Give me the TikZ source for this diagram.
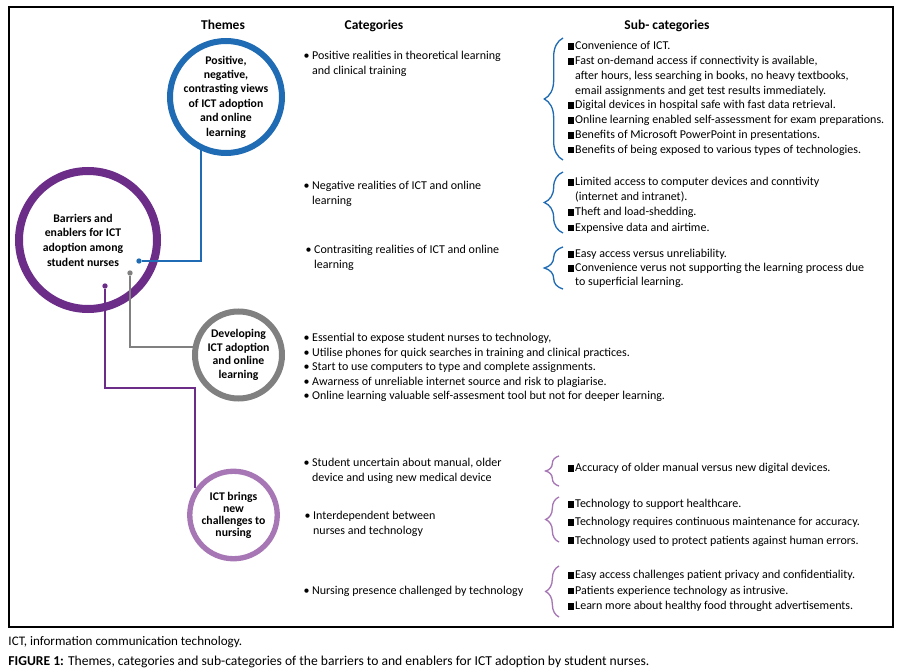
\documentclass[tikz,border=0pt]{standalone}
\usepackage{fontspec}
\setmainfont{Carlito}
\usetikzlibrary{decorations.pathreplacing}
\definecolor{themeblue}{RGB}{31,107,180}
\definecolor{themepurple}{RGB}{107,45,136}
\definecolor{themegrey}{RGB}{128,128,128}
\definecolor{themelilac}{RGB}{166,118,181}
\newcommand{\sqbul}{\rule{5pt}{5pt}\kern0.8pt}
\tikzset{every picture/.style={line width=0.75pt},
  theme/.style={circle, fill=white, inner sep=0pt},
  themetext/.style={align=center, inner sep=0pt, font=\bfseries\fontsize{8.8}{10.8}\selectfont},
  head/.style={anchor=base, inner sep=0.75pt, font=\bfseries\fontsize{10.1}{12}\selectfont},
  listtext/.style={anchor=north west, inner sep=0.75pt, align=left, font=\fontsize{9}{11.1}\selectfont},
  dot/.style={circle, inner sep=0pt, minimum size=4pt},
  conn/.style={line width=1.5pt},
  subbrace/.style={decorate, line width=1pt}
}

\begin{document}
\begin{tikzpicture}[x=0.75pt,y=0.75pt,yscale=-1,xscale=1]
	\useasboundingbox (0,0) rectangle (901,671);
	%Shape: Rectangle
	\draw [line width=1.1pt] (9,7) rectangle (893,627);
	% Text Node
	\draw (223,29.5) node (hthemes) [head] {Themes};
	% Text Node
	\draw (374,29.5) node (hcat) [head] {Categories};
	% Text Node
	\draw (667,29.5) node (hsub) [head] {Sub- categories};
	%Shape: Circle
	\draw (88,240) node (core) [theme, draw=themepurple, line width=6pt, minimum size=103.5pt, label={[themetext, xshift=-3.75pt, font=\bfseries\fontsize{8.8}{11}\selectfont]center:{Barriers and\\enablers for ICT\\adoption among\\student nurses}}] {};
	%Shape: Circle
	\draw (226,97) node (views) [theme, draw=themeblue, line width=4.5pt, minimum size=84pt, label={[themetext]center:{Positive,\\negative,\\contrasting views\\of ICT adoption\\and online\\learning}}] {};
	%Shape: Circle
	\draw (238.5,355) node (dev) [theme, draw=themegrey, line width=4.5pt, minimum size=65.25pt, label={[themetext, font=\bfseries\fontsize{8.8}{10.3}\selectfont]center:{Developing\\ICT adoption\\and online\\learning}}] {};
	%Shape: Circle
	\draw (233.5,515) node (chal) [theme, draw=themelilac, line width=4pt, minimum size=65.6pt, label={[themetext, font=\bfseries\fontsize{8.8}{9}\selectfont]center:{ICT brings\\new\\challenges to\\nursing}}] {};
	%Shape: Dots
	\draw (139,261) node (bdot) [dot, fill=themeblue] {};
	\draw (130,273) node (gdot) [dot, fill=themegrey] {};
	\draw (105,286) node (pdot) [dot, fill=themepurple] {};
	%Straight Lines
	\draw [conn, themeblue] (bdot) -| (views.245);
	%Straight Lines
	\draw [conn, themegrey] (gdot) |- (dev.170);
	%Straight Lines
	\draw [conn, themepurple] (pdot) -- ++(0,102) -| (chal.145);
	% Text Node
	\draw (302,50) node (cpos) [listtext] {• Positive realities in theoretical learning\\\phantom{• }and clinical training};
	% Text Node
	\draw (302,180) node (cneg) [listtext] {• Negative realities of ICT and online\\\phantom{• }learning};
	% Text Node
	\draw (304,244) node (ccon) [listtext] {• Contrasiting realities of ICT and online\\\phantom{• }learning};
	% Text Node
	\draw (302,332) node (cdev) [listtext, font=\fontsize{9}{10.9}\selectfont] {• Essential to expose student nurses to technology,\\• Utilise phones for quick searches in training and clinical practices.\\• Start to use computers to type and complete assignments.\\• Awarness of unreliable internet source and risk to plagiarise.\\• Online learning valuable self-assesment tool but not for deeper learning.};
	% Text Node
	\draw (302,457) node (cunc) [listtext] {• Student uncertain about manual, older\\\phantom{• }device and using new medical device};
	% Text Node
	\draw (303,510) node (cint) [listtext] {• Interdependent between\\\phantom{• }nurses and technology};
	% Text Node
	\draw (302,585) node (cpres) [listtext] {• Nursing presence challenged by technology};
	%Shape: Brace
	\draw [subbrace, themeblue, decoration={brace, amplitude=14pt}] (563,160) -- (563,38);
	\draw [subbrace, themeblue, decoration={brace, amplitude=14pt}] (563,233) -- (563,172);
	\draw [subbrace, themeblue, decoration={brace, amplitude=14pt}] (563,289) -- (563,247);
	\draw [subbrace, themelilac, decoration={brace, amplitude=10pt}] (559,486) -- (559,456);
	\draw [subbrace, themelilac, decoration={brace, amplitude=10pt}] (559,542) -- (559,497);
	\draw [subbrace, themelilac, decoration={brace, amplitude=10pt}] (559,617) -- (559,566);
	% Text Node
	\draw (566,40) node (spos) [listtext] {\sqbul Convenience of ICT.\\\sqbul Fast on-demand access if connectivity is available,\\\phantom{\sqbul}after hours, less searching in books, no heavy textbooks,\\\phantom{\sqbul}email assignments and get test results immediately.\\\sqbul Digital devices in hospital safe with fast data retrieval.\\\sqbul Online learning enabled self-assessment for exam preparations.\\\sqbul Benefits of Microsoft PowerPoint in presentations.\\\sqbul Benefits of being exposed to various types of technologies.};
	% Text Node
	\draw (566,176) node (sneg) [listtext] {\sqbul Limited access to computer devices and conntivity\\\phantom{\sqbul}(internet and intranet).\\[0.4pt]\sqbul Theft and load-shedding.\\[0.4pt]\sqbul Expensive data and airtime.};
	% Text Node
	\draw (566,248) node (scon) [listtext, font=\fontsize{9}{10.5}\selectfont] {\sqbul Easy access versus unreliability.\\\sqbul Convenience verus not supporting the learning process due\\\phantom{\sqbul}to superficial learning.};
	% Text Node
	\draw (566,462) node (sunc) [listtext] {\sqbul Accuracy of older manual versus new digital devices.};
	% Text Node
	\draw (566,498) node (sint) [listtext] {\sqbul Technology to support healthcare.\\[2.5pt]\sqbul Technology requires continuous maintenance for accuracy.\\[2.5pt]\sqbul Technology used to protect patients against human errors.};
	% Text Node
	\draw (566,569) node (spres) [listtext, font=\fontsize{9}{11.5}\selectfont] {\sqbul Easy access challenges patient privacy and confidentiality.\\\sqbul Patients experience technology as intrusive.\\\sqbul Learn more about healthy food throught advertisements.};
	% Text Node
	\draw (8,645) node (cabbr) [anchor=base west, inner sep=0pt, font=\fontsize{9.8}{11}\selectfont] {ICT, information communication technology.};
	% Text Node
	\draw (8,665) node (ccap) [anchor=base west, inner sep=0pt, font=\fontsize{10.2}{12}\selectfont] {\textbf{FIGURE 1:} Themes, categories and sub-categories of the barriers to and enablers for ICT adoption by student nurses.};
\end{tikzpicture}
\end{document}
